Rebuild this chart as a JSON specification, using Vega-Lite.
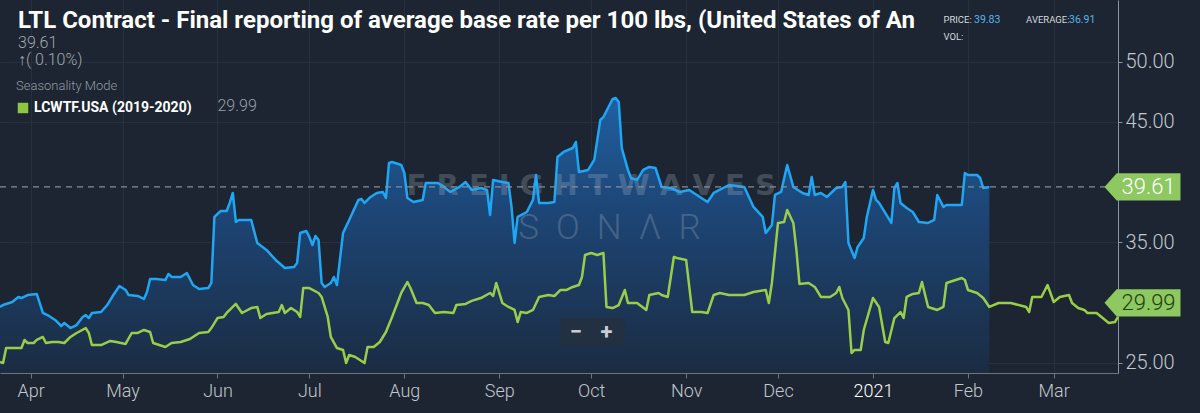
{
  "$schema": "https://vega.github.io/schema/vega-lite/v6.json",
  "width": 1118,
  "height": 373,
  "autosize": "none",
  "padding": {"left": 0, "top": 0, "right": 82, "bottom": 40},
  "background": "#1c2531",
  "title": {
    "text": "LTL Contract - Final reporting of average base rate per 100 lbs, (United States of An",
    "subtitle": [" 39.61", " \u2191( 0.10%)"],
    "anchor": "start",
    "frame": "group",
    "orient": "top",
    "offset": -68,
    "dx": 18,
    "color": "#ffffff",
    "font": "Roboto",
    "fontSize": 24,
    "fontWeight": "bold",
    "subtitleColor": "#a3a9b0",
    "subtitleFont": "Roboto",
    "subtitleFontSize": 16,
    "subtitleFontWeight": 300,
    "subtitleLineHeight": 17,
    "subtitlePadding": 2
  },
  "datasets": {
    "current": [
      {"date": "2020-03-22", "value": 29.65},
      {"date": "2020-03-23", "value": 29.81},
      {"date": "2020-03-26", "value": 30.06},
      {"date": "2020-03-28", "value": 30.48},
      {"date": "2020-03-29", "value": 30.39},
      {"date": "2020-03-31", "value": 30.64},
      {"date": "2020-04-03", "value": 30.73},
      {"date": "2020-04-05", "value": 29.15},
      {"date": "2020-04-07", "value": 28.9},
      {"date": "2020-04-09", "value": 28.57},
      {"date": "2020-04-11", "value": 28.07},
      {"date": "2020-04-12", "value": 28.32},
      {"date": "2020-04-14", "value": 27.9},
      {"date": "2020-04-16", "value": 28.15},
      {"date": "2020-04-18", "value": 28.82},
      {"date": "2020-04-19", "value": 28.98},
      {"date": "2020-04-20", "value": 28.73},
      {"date": "2020-04-21", "value": 29.15},
      {"date": "2020-04-24", "value": 29.23},
      {"date": "2020-04-26", "value": 29.81},
      {"date": "2020-04-28", "value": 30.64},
      {"date": "2020-04-30", "value": 31.39},
      {"date": "2020-05-02", "value": 31.06},
      {"date": "2020-05-03", "value": 30.64},
      {"date": "2020-05-06", "value": 30.56},
      {"date": "2020-05-08", "value": 30.31},
      {"date": "2020-05-09", "value": 30.89},
      {"date": "2020-05-10", "value": 31.97},
      {"date": "2020-05-12", "value": 31.97},
      {"date": "2020-05-15", "value": 31.89},
      {"date": "2020-05-16", "value": 32.39},
      {"date": "2020-05-17", "value": 32.14},
      {"date": "2020-05-20", "value": 32.14},
      {"date": "2020-05-22", "value": 32.47},
      {"date": "2020-05-24", "value": 31.47},
      {"date": "2020-05-26", "value": 31.14},
      {"date": "2020-05-29", "value": 31.22},
      {"date": "2020-05-30", "value": 31.64},
      {"date": "2020-05-31", "value": 37.12},
      {"date": "2020-06-02", "value": 37.61},
      {"date": "2020-06-04", "value": 37.61},
      {"date": "2020-06-05", "value": 38.28},
      {"date": "2020-06-06", "value": 39.11},
      {"date": "2020-06-07", "value": 36.7},
      {"date": "2020-06-08", "value": 36.87},
      {"date": "2020-06-12", "value": 36.87},
      {"date": "2020-06-14", "value": 34.96},
      {"date": "2020-06-17", "value": 34.38},
      {"date": "2020-06-20", "value": 33.55},
      {"date": "2020-06-23", "value": 32.88},
      {"date": "2020-06-26", "value": 32.97},
      {"date": "2020-06-27", "value": 33.3},
      {"date": "2020-06-28", "value": 35.79},
      {"date": "2020-06-30", "value": 35.95},
      {"date": "2020-07-01", "value": 35.46},
      {"date": "2020-07-02", "value": 34.79},
      {"date": "2020-07-03", "value": 35.54},
      {"date": "2020-07-04", "value": 35.21},
      {"date": "2020-07-05", "value": 31.64},
      {"date": "2020-07-06", "value": 31.31},
      {"date": "2020-07-08", "value": 31.64},
      {"date": "2020-07-09", "value": 32.14},
      {"date": "2020-07-10", "value": 31.47},
      {"date": "2020-07-12", "value": 35.79},
      {"date": "2020-07-14", "value": 36.87},
      {"date": "2020-07-17", "value": 38.53},
      {"date": "2020-07-18", "value": 38.61},
      {"date": "2020-07-19", "value": 38.28},
      {"date": "2020-07-21", "value": 38.78},
      {"date": "2020-07-23", "value": 39.11},
      {"date": "2020-07-25", "value": 39.19},
      {"date": "2020-07-26", "value": 38.69},
      {"date": "2020-07-27", "value": 41.6},
      {"date": "2020-07-28", "value": 41.68},
      {"date": "2020-07-31", "value": 41.43},
      {"date": "2020-08-01", "value": 40.77},
      {"date": "2020-08-02", "value": 38.69},
      {"date": "2020-08-04", "value": 38.36},
      {"date": "2020-08-07", "value": 38.53},
      {"date": "2020-08-08", "value": 39.94},
      {"date": "2020-08-12", "value": 39.94},
      {"date": "2020-08-14", "value": 39.61},
      {"date": "2020-08-16", "value": 39.19},
      {"date": "2020-08-19", "value": 39.61},
      {"date": "2020-08-21", "value": 40.02},
      {"date": "2020-08-23", "value": 39.36},
      {"date": "2020-08-26", "value": 39.52},
      {"date": "2020-08-28", "value": 39.36},
      {"date": "2020-08-29", "value": 37.28},
      {"date": "2020-08-30", "value": 40.19},
      {"date": "2020-09-02", "value": 40.02},
      {"date": "2020-09-04", "value": 39.94},
      {"date": "2020-09-05", "value": 37.95},
      {"date": "2020-09-06", "value": 34.96},
      {"date": "2020-09-07", "value": 37.12},
      {"date": "2020-09-10", "value": 37.53},
      {"date": "2020-09-12", "value": 38.53},
      {"date": "2020-09-13", "value": 40.6},
      {"date": "2020-09-14", "value": 38.28},
      {"date": "2020-09-17", "value": 38.28},
      {"date": "2020-09-19", "value": 38.36},
      {"date": "2020-09-20", "value": 42.1},
      {"date": "2020-09-22", "value": 42.51},
      {"date": "2020-09-25", "value": 42.84},
      {"date": "2020-09-26", "value": 43.34},
      {"date": "2020-09-27", "value": 40.85},
      {"date": "2020-09-30", "value": 41.02},
      {"date": "2020-10-02", "value": 41.85},
      {"date": "2020-10-04", "value": 45.17},
      {"date": "2020-10-05", "value": 45.41},
      {"date": "2020-10-07", "value": 46.41},
      {"date": "2020-10-08", "value": 46.91},
      {"date": "2020-10-09", "value": 46.99},
      {"date": "2020-10-10", "value": 46.66},
      {"date": "2020-10-11", "value": 42.84},
      {"date": "2020-10-13", "value": 41.02},
      {"date": "2020-10-14", "value": 40.35},
      {"date": "2020-10-16", "value": 40.19},
      {"date": "2020-10-18", "value": 41.02},
      {"date": "2020-10-20", "value": 41.27},
      {"date": "2020-10-22", "value": 41.18},
      {"date": "2020-10-24", "value": 39.61},
      {"date": "2020-10-27", "value": 39.52},
      {"date": "2020-10-30", "value": 39.19},
      {"date": "2020-11-02", "value": 39.36},
      {"date": "2020-11-08", "value": 38.36},
      {"date": "2020-11-10", "value": 39.11},
      {"date": "2020-11-15", "value": 39.77},
      {"date": "2020-11-20", "value": 39.61},
      {"date": "2020-11-23", "value": 37.95},
      {"date": "2020-11-26", "value": 37.12},
      {"date": "2020-11-27", "value": 35.79},
      {"date": "2020-11-29", "value": 36.45},
      {"date": "2020-11-30", "value": 38.94},
      {"date": "2020-12-02", "value": 39.19},
      {"date": "2020-12-04", "value": 41.43},
      {"date": "2020-12-06", "value": 39.61},
      {"date": "2020-12-09", "value": 39.11},
      {"date": "2020-12-11", "value": 38.94},
      {"date": "2020-12-12", "value": 40.44},
      {"date": "2020-12-13", "value": 38.94},
      {"date": "2020-12-15", "value": 39.11},
      {"date": "2020-12-17", "value": 38.78},
      {"date": "2020-12-20", "value": 39.52},
      {"date": "2020-12-22", "value": 39.61},
      {"date": "2020-12-23", "value": 40.02},
      {"date": "2020-12-24", "value": 34.96},
      {"date": "2020-12-26", "value": 33.71},
      {"date": "2020-12-27", "value": 34.63},
      {"date": "2020-12-29", "value": 35.37},
      {"date": "2020-12-30", "value": 37.12},
      {"date": "2021-01-01", "value": 39.36},
      {"date": "2021-01-02", "value": 38.53},
      {"date": "2021-01-03", "value": 38.28},
      {"date": "2021-01-07", "value": 36.62},
      {"date": "2021-01-08", "value": 39.52},
      {"date": "2021-01-09", "value": 39.94},
      {"date": "2021-01-10", "value": 38.28},
      {"date": "2021-01-12", "value": 37.86},
      {"date": "2021-01-14", "value": 37.53},
      {"date": "2021-01-16", "value": 36.7},
      {"date": "2021-01-19", "value": 36.62},
      {"date": "2021-01-21", "value": 36.87},
      {"date": "2021-01-22", "value": 38.94},
      {"date": "2021-01-24", "value": 37.95},
      {"date": "2021-01-25", "value": 38.11},
      {"date": "2021-01-30", "value": 38.11},
      {"date": "2021-01-31", "value": 40.77},
      {"date": "2021-02-01", "value": 40.6},
      {"date": "2021-02-04", "value": 40.6},
      {"date": "2021-02-05", "value": 40.35},
      {"date": "2021-02-06", "value": 39.52},
      {"date": "2021-02-08", "value": 39.61}
    ],
    "seasonal": [
      {"date": "2020-03-22", "value": 25.08},
      {"date": "2020-03-23", "value": 25.0},
      {"date": "2020-03-24", "value": 26.24},
      {"date": "2020-03-29", "value": 26.24},
      {"date": "2020-03-30", "value": 26.91},
      {"date": "2020-03-31", "value": 26.66},
      {"date": "2020-04-02", "value": 26.66},
      {"date": "2020-04-03", "value": 26.91},
      {"date": "2020-04-05", "value": 27.16},
      {"date": "2020-04-06", "value": 26.66},
      {"date": "2020-04-08", "value": 26.74},
      {"date": "2020-04-10", "value": 26.74},
      {"date": "2020-04-12", "value": 26.66},
      {"date": "2020-04-14", "value": 27.16},
      {"date": "2020-04-16", "value": 27.49},
      {"date": "2020-04-19", "value": 27.9},
      {"date": "2020-04-20", "value": 27.49},
      {"date": "2020-04-21", "value": 26.49},
      {"date": "2020-04-24", "value": 26.49},
      {"date": "2020-04-27", "value": 26.83},
      {"date": "2020-04-29", "value": 26.74},
      {"date": "2020-05-02", "value": 26.58},
      {"date": "2020-05-04", "value": 27.49},
      {"date": "2020-05-06", "value": 27.49},
      {"date": "2020-05-08", "value": 27.74},
      {"date": "2020-05-10", "value": 27.57},
      {"date": "2020-05-11", "value": 26.66},
      {"date": "2020-05-15", "value": 26.33},
      {"date": "2020-05-17", "value": 26.66},
      {"date": "2020-05-20", "value": 26.74},
      {"date": "2020-05-23", "value": 26.99},
      {"date": "2020-05-26", "value": 27.49},
      {"date": "2020-05-29", "value": 27.57},
      {"date": "2020-05-30", "value": 27.9},
      {"date": "2020-06-01", "value": 28.73},
      {"date": "2020-06-03", "value": 28.82},
      {"date": "2020-06-04", "value": 29.15},
      {"date": "2020-06-07", "value": 29.9},
      {"date": "2020-06-09", "value": 29.15},
      {"date": "2020-06-12", "value": 29.56},
      {"date": "2020-06-14", "value": 29.65},
      {"date": "2020-06-15", "value": 28.73},
      {"date": "2020-06-17", "value": 29.07},
      {"date": "2020-06-21", "value": 29.23},
      {"date": "2020-06-22", "value": 29.81},
      {"date": "2020-06-23", "value": 29.15},
      {"date": "2020-06-25", "value": 29.56},
      {"date": "2020-06-27", "value": 29.23},
      {"date": "2020-06-28", "value": 28.82},
      {"date": "2020-06-29", "value": 31.22},
      {"date": "2020-07-01", "value": 31.22},
      {"date": "2020-07-04", "value": 30.81},
      {"date": "2020-07-05", "value": 30.48},
      {"date": "2020-07-07", "value": 28.82},
      {"date": "2020-07-08", "value": 27.16},
      {"date": "2020-07-10", "value": 26.24},
      {"date": "2020-07-12", "value": 26.08},
      {"date": "2020-07-13", "value": 25.0},
      {"date": "2020-07-14", "value": 25.66},
      {"date": "2020-07-16", "value": 25.5},
      {"date": "2020-07-19", "value": 25.0},
      {"date": "2020-07-20", "value": 26.33},
      {"date": "2020-07-22", "value": 26.33},
      {"date": "2020-07-24", "value": 26.74},
      {"date": "2020-07-26", "value": 27.57},
      {"date": "2020-07-28", "value": 28.82},
      {"date": "2020-07-31", "value": 30.81},
      {"date": "2020-08-02", "value": 31.72},
      {"date": "2020-08-03", "value": 31.22},
      {"date": "2020-08-05", "value": 29.98},
      {"date": "2020-08-07", "value": 29.98},
      {"date": "2020-08-09", "value": 29.81},
      {"date": "2020-08-11", "value": 29.15},
      {"date": "2020-08-14", "value": 29.23},
      {"date": "2020-08-17", "value": 29.15},
      {"date": "2020-08-18", "value": 29.81},
      {"date": "2020-08-21", "value": 29.9},
      {"date": "2020-08-23", "value": 30.15},
      {"date": "2020-08-26", "value": 30.39},
      {"date": "2020-08-29", "value": 30.81},
      {"date": "2020-08-30", "value": 30.56},
      {"date": "2020-08-31", "value": 31.64},
      {"date": "2020-09-02", "value": 29.98},
      {"date": "2020-09-04", "value": 29.65},
      {"date": "2020-09-06", "value": 29.4},
      {"date": "2020-09-07", "value": 28.4},
      {"date": "2020-09-08", "value": 29.23},
      {"date": "2020-09-10", "value": 29.15},
      {"date": "2020-09-12", "value": 29.4},
      {"date": "2020-09-14", "value": 30.48},
      {"date": "2020-09-17", "value": 30.64},
      {"date": "2020-09-19", "value": 30.56},
      {"date": "2020-09-21", "value": 31.06},
      {"date": "2020-09-23", "value": 31.06},
      {"date": "2020-09-25", "value": 31.31},
      {"date": "2020-09-27", "value": 31.47},
      {"date": "2020-09-28", "value": 32.14},
      {"date": "2020-09-29", "value": 33.96},
      {"date": "2020-10-01", "value": 34.13},
      {"date": "2020-10-03", "value": 33.96},
      {"date": "2020-10-05", "value": 34.13},
      {"date": "2020-10-06", "value": 29.65},
      {"date": "2020-10-08", "value": 29.56},
      {"date": "2020-10-10", "value": 29.81},
      {"date": "2020-10-12", "value": 31.06},
      {"date": "2020-10-13", "value": 29.98},
      {"date": "2020-10-16", "value": 29.98},
      {"date": "2020-10-19", "value": 29.4},
      {"date": "2020-10-20", "value": 30.64},
      {"date": "2020-10-23", "value": 30.81},
      {"date": "2020-10-24", "value": 30.64},
      {"date": "2020-10-26", "value": 30.48},
      {"date": "2020-10-28", "value": 33.8},
      {"date": "2020-10-29", "value": 33.71},
      {"date": "2020-11-01", "value": 33.55},
      {"date": "2020-11-03", "value": 29.23},
      {"date": "2020-11-06", "value": 29.23},
      {"date": "2020-11-08", "value": 29.15},
      {"date": "2020-11-10", "value": 30.64},
      {"date": "2020-11-12", "value": 30.81},
      {"date": "2020-11-15", "value": 30.64},
      {"date": "2020-11-20", "value": 30.64},
      {"date": "2020-11-23", "value": 30.89},
      {"date": "2020-11-27", "value": 31.06},
      {"date": "2020-11-28", "value": 29.98},
      {"date": "2020-11-29", "value": 31.64},
      {"date": "2020-12-01", "value": 36.62},
      {"date": "2020-12-03", "value": 36.7},
      {"date": "2020-12-04", "value": 37.7},
      {"date": "2020-12-06", "value": 36.62},
      {"date": "2020-12-07", "value": 34.38},
      {"date": "2020-12-08", "value": 31.56},
      {"date": "2020-12-11", "value": 31.64},
      {"date": "2020-12-13", "value": 31.31},
      {"date": "2020-12-15", "value": 30.48},
      {"date": "2020-12-18", "value": 30.48},
      {"date": "2020-12-20", "value": 30.81},
      {"date": "2020-12-21", "value": 31.31},
      {"date": "2020-12-22", "value": 30.39},
      {"date": "2020-12-24", "value": 29.4},
      {"date": "2020-12-25", "value": 25.83},
      {"date": "2020-12-26", "value": 26.08},
      {"date": "2020-12-28", "value": 26.08},
      {"date": "2020-12-29", "value": 27.74},
      {"date": "2021-01-01", "value": 30.39},
      {"date": "2021-01-03", "value": 29.65},
      {"date": "2021-01-05", "value": 26.74},
      {"date": "2021-01-06", "value": 26.66},
      {"date": "2021-01-08", "value": 28.73},
      {"date": "2021-01-10", "value": 29.23},
      {"date": "2021-01-11", "value": 28.73},
      {"date": "2021-01-12", "value": 30.48},
      {"date": "2021-01-14", "value": 30.73},
      {"date": "2021-01-16", "value": 30.81},
      {"date": "2021-01-17", "value": 31.72},
      {"date": "2021-01-19", "value": 29.65},
      {"date": "2021-01-22", "value": 29.4},
      {"date": "2021-01-24", "value": 29.65},
      {"date": "2021-01-25", "value": 31.64},
      {"date": "2021-01-28", "value": 31.89},
      {"date": "2021-01-30", "value": 32.05},
      {"date": "2021-01-31", "value": 31.89},
      {"date": "2021-02-01", "value": 31.06},
      {"date": "2021-02-04", "value": 30.81},
      {"date": "2021-02-06", "value": 30.39},
      {"date": "2021-02-08", "value": 29.65},
      {"date": "2021-02-11", "value": 29.98},
      {"date": "2021-02-15", "value": 29.98},
      {"date": "2021-02-20", "value": 29.65},
      {"date": "2021-02-21", "value": 29.23},
      {"date": "2021-02-22", "value": 30.48},
      {"date": "2021-02-25", "value": 30.48},
      {"date": "2021-02-27", "value": 31.47},
      {"date": "2021-03-01", "value": 30.06},
      {"date": "2021-03-03", "value": 30.48},
      {"date": "2021-03-06", "value": 30.64},
      {"date": "2021-03-07", "value": 29.98},
      {"date": "2021-03-09", "value": 29.56},
      {"date": "2021-03-11", "value": 29.4},
      {"date": "2021-03-12", "value": 29.15},
      {"date": "2021-03-15", "value": 29.15},
      {"date": "2021-03-17", "value": 28.73},
      {"date": "2021-03-19", "value": 28.32},
      {"date": "2021-03-21", "value": 28.4},
      {"date": "2021-03-22", "value": 28.82}
    ],
    "tags": [
      {"series": "current", "date": "2021-03-30", "value": 39.61},
      {"series": "seasonal", "date": "2021-03-30", "value": 29.99}
    ],
    "buttons": [
      {"date": "2020-09-21", "date2": "2020-10-12", "value": 28.73, "value2": 26.41}
    ],
    "notes": [
      {"kind": "last", "text": "29.99", "date": "2020-06-01", "value": 46.33},
      {"kind": "label", "text": "PRICE:", "date": "2021-01-24", "value": 53.46},
      {"kind": "num", "text": "39.83", "date": "2021-02-03", "value": 53.46},
      {"kind": "label", "text": "AVERAGE:", "date": "2021-02-20", "value": 53.46},
      {"kind": "num", "text": "36.91", "date": "2021-03-06", "value": 53.46},
      {"kind": "label", "text": "VOL:", "date": "2021-01-24", "value": 52.05},
      {"kind": "watermark", "text": "F R E I G H T W A V E S", "date": "2020-10-01", "value": 39.65},
      {"kind": "watermark2", "text": "S\u00a0\u00a0O\u00a0\u00a0N\u00a0\u00a0\u039b\u00a0\u00a0R", "date": "2020-10-07", "value": 36.2},
      {"kind": "button", "text": "\u2212", "date": "2020-09-26", "value": 27.6},
      {"kind": "button", "text": "+", "date": "2020-10-06", "value": 27.6}
    ]
  },
  "encoding": {
    "x": {
      "field": "date",
      "type": "temporal",
      "scale": {
        "domain": [
          {"year": 2020, "month": 3, "date": 22},
          {"year": 2021, "month": 3, "date": 22}
        ]
      },
      "axis": {
        "title": null,
        "tickCount": {"interval": "month", "step": 1},
        "labelExpr": "month(datum.value) == 0 ? timeFormat(datum.value, '%Y') : timeFormat(datum.value, '%b')",
        "labelFont": "Roboto",
        "labelFontSize": 18,
        "labelFontWeight": 300,
        "labelColor": {
          "condition": {"test": "month(datum.value) == 0", "value": "#ffffff"},
          "value": "#c3c8cf"
        },
        "labelPadding": 4,
        "tickSize": 5,
        "tickColor": "#6c747e",
        "domainColor": "#6c747e",
        "grid": true,
        "gridColor": "#253040"
      }
    },
    "y": {
      "field": "value",
      "type": "quantitative",
      "scale": {"domain": [24.17, 55.12], "nice": false, "zero": false},
      "axis": {
        "title": null,
        "orient": "right",
        "values": [25, 35, 45, 50],
        "format": ".2f",
        "labelFont": "Roboto",
        "labelFontSize": 20,
        "labelFontWeight": 300,
        "labelColor": "#c3c8cf",
        "labelPadding": 3,
        "tickSize": 4,
        "tickColor": "#8b939d",
        "domainColor": "#8b939d",
        "grid": true,
        "gridColor": "#253040"
      }
    }
  },
  "layer": [
    {
      "data": {"name": "current"},
      "mark": {
        "type": "area",
        "color": {
          "gradient": "linear",
          "x1": 0, "y1": 0, "x2": 0, "y2": 1,
          "stops": [
            {"offset": 0, "color": "#2060a0"},
            {"offset": 0.4, "color": "#1d4677"},
            {"offset": 1, "color": "#1b2c42"}
          ]
        }
      },
      "encoding": {
        "y2": {"datum": 24.17}
      }
    },
    {
      "data": {"name": "notes"},
      "transform": [{"filter": "datum.kind == 'watermark'"}],
      "mark": {"type": "text", "align": "center", "baseline": "middle", "font": "DejaVu Sans", "fontSize": 29, "fontWeight": "bold", "color": "#b4bfcc", "opacity": 0.25},
      "encoding": {"text": {"field": "text"}}
    },
    {
      "data": {"name": "notes"},
      "transform": [{"filter": "datum.kind == 'watermark2'"}],
      "mark": {"type": "text", "align": "center", "baseline": "middle", "font": "Roboto", "fontSize": 35, "fontWeight": 300, "color": "#aab6c6", "opacity": 0.28},
      "encoding": {"text": {"field": "text"}}
    },
    {
      "data": {"name": "buttons"},
      "mark": {"type": "rect", "color": "#243040", "opacity": 0.9},
      "encoding": {
        "x2": {"field": "date2", "type": "temporal"},
        "y2": {"field": "value2"}
      }
    },
    {
      "data": {"name": "seasonal"},
      "mark": {"type": "line", "strokeWidth": 2.5, "strokeJoin": "round"},
      "encoding": {
        "color": {
          "datum": "LCWTF.USA (2019-2020)",
          "type": "nominal",
          "scale": {"range": ["#9acd4a"]},
          "legend": {
            "title": "Seasonality Mode",
            "orient": "none",
            "legendX": 16,
            "legendY": 80,
            "titleFont": "Roboto",
            "titleFontSize": 13,
            "titleFontWeight": 300,
            "titleColor": "#959ca4",
            "titlePadding": 8,
            "labelFont": "Roboto",
            "labelFontSize": 14,
            "labelFontWeight": "bold",
            "labelColor": "#ffffff",
            "labelOffset": 4,
            "symbolType": "square",
            "symbolSize": 110,
            "symbolFillColor": "#8dc63f",
            "symbolStrokeColor": "#8dc63f",
            "symbolStrokeWidth": 0,
            "encode": {
              "symbols": {
                "update": {
                  "fill": {"value": "#8dc63f"},
                  "stroke": {"value": "#8dc63f"},
                  "strokeWidth": {"value": 0}
                }
              }
            }
          }
        }
      }
    },
    {
      "data": {"name": "current"},
      "mark": {"type": "line", "strokeWidth": 2.5, "strokeJoin": "round", "color": "#1fa6f4"}
    },
    {
      "data": {"name": "tags"},
      "transform": [{"filter": "datum.series == 'current'"}],
      "mark": {"type": "rule", "strokeDash": [6, 5], "strokeWidth": 1.2, "color": "#858d97"},
      "encoding": {
        "x": {"datum": {"year": 2020, "month": 3, "date": 22}, "type": "temporal"},
        "x2": {"datum": {"year": 2021, "month": 3, "date": 30}}
      }
    },
    {
      "data": {"name": "tags"},
      "mark": {
        "type": "point",
        "shape": "M-1,0L-0.68,-0.36L1,-0.36L1,0.36L-0.68,0.36Z",
        "size": 5776,
        "filled": true,
        "opacity": 1,
        "strokeWidth": 0,
        "color": "#8dc860"
      }
    },
    {
      "data": {"name": "tags"},
      "mark": {"type": "text", "dx": 6, "align": "center", "baseline": "middle", "font": "Roboto", "fontSize": 22, "fontWeight": 300},
      "encoding": {
        "text": {"field": "value", "type": "quantitative", "format": ".2f"},
        "color": {
          "condition": {"test": "datum.series == 'seasonal'", "value": "#22400c"},
          "value": "#ffffff"
        }
      }
    },
    {
      "data": {"name": "notes"},
      "transform": [{"filter": "datum.kind == 'last'"}],
      "mark": {"type": "text", "align": "left", "baseline": "middle", "font": "Roboto", "fontSize": 16, "fontWeight": 300, "color": "#9aa1a8"},
      "encoding": {"text": {"field": "text"}}
    },
    {
      "data": {"name": "notes"},
      "transform": [{"filter": "datum.kind == 'label'"}],
      "mark": {"type": "text", "align": "left", "baseline": "middle", "font": "Roboto", "fontSize": 9.5, "color": "#d5d9de"},
      "encoding": {"text": {"field": "text"}}
    },
    {
      "data": {"name": "notes"},
      "transform": [{"filter": "datum.kind == 'num'"}],
      "mark": {"type": "text", "align": "left", "baseline": "middle", "font": "Roboto", "fontSize": 10.5, "color": "#5bb3ee"},
      "encoding": {"text": {"field": "text"}}
    },
    {
      "data": {"name": "notes"},
      "transform": [{"filter": "datum.kind == 'button'"}],
      "mark": {"type": "text", "align": "center", "baseline": "middle", "font": "Roboto", "fontSize": 22, "fontWeight": "bold", "color": "#c9cdd3"},
      "encoding": {"text": {"field": "text"}}
    }
  ],
  "config": {
    "view": {"stroke": null}
  }
}
